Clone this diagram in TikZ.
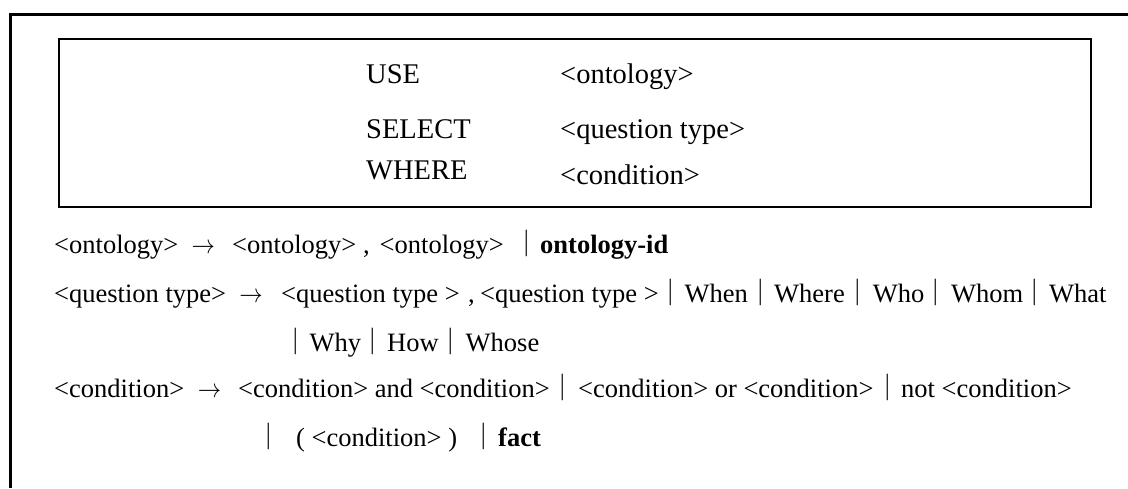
\documentclass[tikz,border=0pt]{standalone}
\usepackage{fix-cm}
\usepackage{fontspec}
\setmainfont{Liberation Serif}
\newfontfamily\cjkbar{Noto Sans CJK SC}
\begin{document}
\begin{tikzpicture}[x=1pt,y=-1pt,
  txt/.style={anchor=base west,inner sep=0pt,font=\fontsize{26.5}{30}\selectfont},
  bx/.style={anchor=base west,inner sep=0pt,font=\fontsize{28.5}{32}\selectfont},
  bar/.style={anchor=base,inner sep=0pt,font=\fontsize{26.5}{30}\selectfont\cjkbar},
  arr/.style={anchor=base,inner sep=0pt,font=\fontsize{26.5}{30}\selectfont},
  bd/.style={txt,font=\fontsize{26.5}{30}\selectfont\bfseries}]
\useasboundingbox (0,0) rectangle (1128,488);
% outer frame (cropped)
\draw[line width=3pt] (10.5,488) -- (10.5,14.8) -- (1128,14.8);
% inner box
\draw[line width=1.4pt] (59,39) rectangle (1091,207);
% box contents
\node[bx] (use) at (366,83.3) {USE};
\node[bx] (select) at (366,138) {SELECT};
\node[bx] (where) at (366,179) {WHERE};
\node[bx] (onto) at (560,83.3) {<ontology>};
\node[bx] (qtype) at (560,138) {<question type>};
\node[bx] (cond) at (560,184) {<condition>};
% line 1
\node[txt] (a1) at (54,253) {<ontology>};
\node[arr] (a2) at (203.3,253) {\scalebox{0.88}[1]{$\rightarrow$}};
\node[txt] (a3) at (232,253) {<ontology>};
\node[txt] (a4) at (363,253) {,};
\node[txt] (a5) at (379.5,253) {<ontology>};
\node[bar] (a6) at (527,253) {\makebox[0pt]{｜}};
\node[bd] (a7) at (540,253) {ontology-id};
% line 2
\node[txt] (b1) at (54,302) {<question type>};
\node[arr] (b2) at (251,302) {\scalebox{0.88}[1]{$\rightarrow$}};
\node[txt] (b3) at (281,302) {<question type >};
\node[txt] (b4) at (468,302) {,};
\node[txt] (b5) at (480,302) {<question type >};
\node[bar] (b6) at (671,302) {\makebox[0pt]{｜}};
\node[txt] (b7) at (684.5,302) {When};
\node[bar] (b8) at (761,302) {\makebox[0pt]{｜}};
\node[txt] (b9) at (774,302) {Where};
\node[bar] (b10) at (858,302) {\makebox[0pt]{｜}};
\node[txt] (b11) at (872.6,302) {Who};
\node[bar] (b12) at (936,302) {\makebox[0pt]{｜}};
\node[txt] (b13) at (951,302) {Whom};
\node[bar] (b14) at (1035,302) {\makebox[0pt]{｜}};
\node[txt] (b15) at (1049,302) {What};
% line 3
\node[bar] (c1) at (295.5,351) {\makebox[0pt]{｜}};
\node[txt] (c2) at (309.5,351) {Why};
\node[bar] (c3) at (373,351) {\makebox[0pt]{｜}};
\node[txt] (c4) at (387,351) {How};
\node[bar] (c5) at (451,351) {\makebox[0pt]{｜}};
\node[txt] (c6) at (465.5,351) {Whose};
% line 4
\node[txt] (d1) at (54,397) {<condition>};
\node[arr] (d2) at (209.5,397) {\scalebox{0.88}[1]{$\rightarrow$}};
\node[txt] (d3) at (238,397) {<condition> and <condition>};
\node[bar] (d4) at (563,397) {\makebox[0pt]{｜}};
\node[txt] (d5) at (578,397) {<condition> or <condition>};
\node[bar] (d6) at (888,397) {\makebox[0pt]{｜}};
\node[txt] (d7) at (901,397) {not <condition>};
% line 5
\node[bar] (e1) at (269,446) {\makebox[0pt]{｜}};
\node[txt] (e2) at (296,446) {( <condition> )};
\node[bar] (e3) at (484,446) {\makebox[0pt]{｜}};
\node[bd] (e4) at (498,446) {fact};
\end{tikzpicture}
\end{document}
